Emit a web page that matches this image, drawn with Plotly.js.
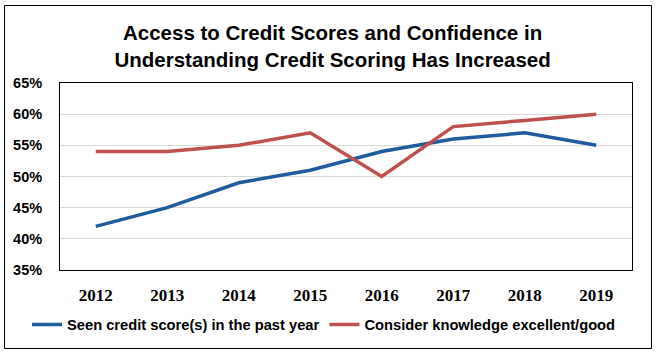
<!DOCTYPE html>
<html><head><meta charset="utf-8">
<script src="https://cdn.plot.ly/plotly-3.0.1.min.js"></script>
<style>html,body{margin:0;padding:0;background:#fff}#chart{width:656px;height:357px}</style>
</head><body><div id="chart"></div>
<script>
const years = ['2012','2013','2014','2015','2016','2017','2018','2019'];
const seenScore = [0.42,0.45,0.49,0.51,0.54,0.56,0.57,0.55];
const knowledgeGood = [0.54,0.54,0.55,0.57,0.50,0.58,0.59,0.60];
const seriesNames = ['Seen credit score(s) in the past year','Consider knowledge excellent/good'];
const yTicks = [0.35,0.40,0.45,0.50,0.55,0.60,0.65];
const yTickText = ['35%','40%','45%','50%','55%','60%','65%'];

const L=60,R=24,T=83,B=87,W=656,H=357;
const pw=W-L-R, ph=H-T-B;
const px=x=>(x-L)/pw, py=y=>(H-B-y)/ph;
const sans='"Liberation Sans", Arial, sans-serif';

const traces=[
 {x:years,y:seenScore,name:seriesNames[0],type:'scatter',mode:'lines',line:{color:'#1F5C9E',width:3.5}},
 {x:years,y:knowledgeGood,name:seriesNames[1],type:'scatter',mode:'lines',line:{color:'#C0504D',width:3.5}}
];
const layout={
 width:W,height:H,margin:{l:L,r:R,t:T,b:B},
 paper_bgcolor:'#fff',plot_bgcolor:'#fff',
 title:{text:'<b>Access to Credit Scores and Confidence in<br>Understanding Credit Scoring Has Increased</b>',
   font:{family:sans,size:20.5,color:'#000'},x:0.507,xanchor:'center',y:1-40/H,yanchor:'middle',yref:'container'},
 xaxis:{type:'category',range:[-0.5,7.5],showgrid:false,showline:true,linecolor:'#000',linewidth:1,mirror:true,
   ticks:'',ticklabelstandoff:10,tickfont:{family:'"Liberation Serif", "Times New Roman", serif',size:17,color:'#000'},
   tickprefix:'<b>',ticksuffix:'</b>'},
 yaxis:{range:[0.35,0.65],tickvals:yTicks,ticktext:yTickText.map(t=>'<b>'+t+'</b>'),showgrid:true,gridcolor:'#D9D9D9',gridwidth:1,
   showline:true,linecolor:'#000',linewidth:1,mirror:true,ticks:'',ticklabelstandoff:14,zeroline:false,
   tickfont:{family:sans,size:14.5,color:'#000'}},
 legend:{orientation:'h',x:px(27),xanchor:'left',y:py(325),yanchor:'middle',font:{family:sans,size:14.7,color:'#000'},
   itemwidth:30,bgcolor:'rgba(0,0,0,0)'},
 shapes:[{type:'rect',xref:'paper',yref:'paper',x0:px(4.5),x1:px(651.5),y0:py(348.5),y1:py(5.5),line:{color:'#000',width:1},layer:'below'}],
 showlegend:true
};
traces.forEach(t=>{t.name='<b>'+t.name+'</b>';});
Plotly.newPlot('chart',traces,layout,{displayModeBar:false,staticPlot:true});
</script></body></html>
